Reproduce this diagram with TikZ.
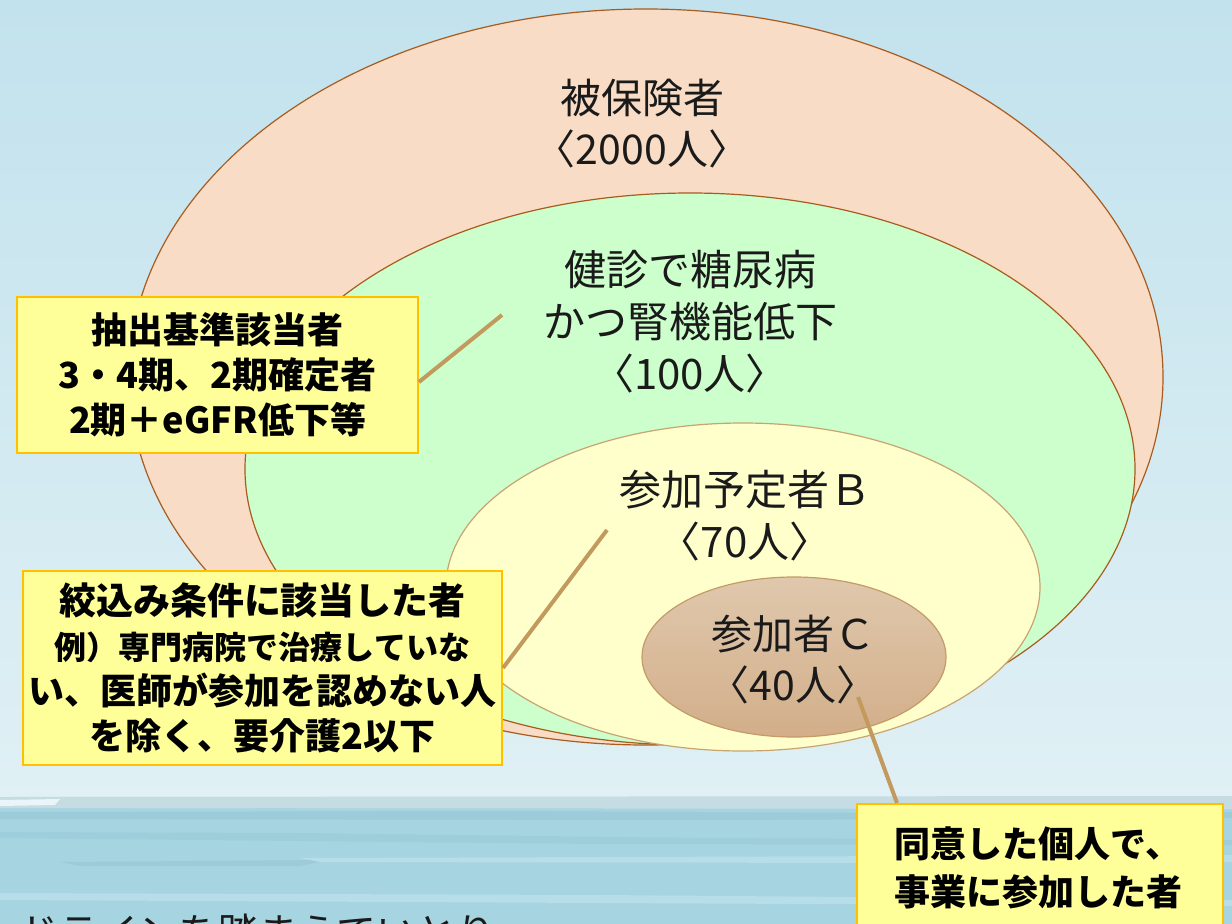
\documentclass[tikz,border=0pt]{standalone}
\usepackage{fontspec}
\newfontfamily\jp{Noto Sans CJK JP}
\usetikzlibrary{shapes.geometric}
\definecolor{sky1}{HTML}{C2E2ED}
\definecolor{sky2}{HTML}{E0F0F5}
\definecolor{sea}{HTML}{A7D4E1}
\definecolor{horizon}{HTML}{C5DCE3}
\definecolor{seadark}{HTML}{9CCBD9}
\definecolor{sealight}{HTML}{B6DDE8}
\definecolor{peach}{HTML}{F8DCC5}
\definecolor{outeredge}{HTML}{A95C1F}
\definecolor{mint}{HTML}{CCFFCC}
\definecolor{cream}{HTML}{FFFFCC}
\definecolor{creamedge}{HTML}{C9A472}
\definecolor{ctop}{HTML}{E0C8AD}
\definecolor{cbot}{HTML}{D2AE89}
\definecolor{cedge}{HTML}{C49B68}
\definecolor{calloutfill}{HTML}{FFFF99}
\definecolor{calloutedge}{HTML}{FFC000}
\definecolor{conncol}{HTML}{C39A5E}
\definecolor{ink}{HTML}{1A1A1A}
\begin{document}
\begin{tikzpicture}[x=1pt,y=-1pt,
  venn/.style={ellipse, inner sep=0pt, line width=1.2pt},
  lbl/.style={font=\jp\fontsize{41}{51}\selectfont, align=center, text=ink, inner sep=0pt},
  callout/.style={draw=calloutedge, fill=calloutfill, line width=2pt, inner sep=0pt},
  ctext/.style={font=\jp\bfseries\fontsize{36}{45}\selectfont, align=center, inner sep=0pt, text=black},
  conn/.style={draw=conncol, line width=4pt}]
\useasboundingbox (0,0) rectangle (1232,924);
\clip (0,0) rectangle (1232,924);
% sky
\fill[top color=sky1, bottom color=sky2] (0,0) rectangle (1232,800);
% sea
\fill[sea] (0,797) rectangle (1232,924);
\fill[horizon] (0,797) -- (1232,796) -- (1232,809) -- (0,808) -- cycle;
\fill[sky2!70!white] (0,800) -- (60,799) -- (55,805) -- (0,806) -- cycle;
\fill[seadark] (0,812) -- (500,811) -- (900,813) -- (1232,812) -- (1232,818) -- (700,820) -- (0,819) -- cycle;
\fill[seadark!80!sea] (0,832) -- (300,833) -- (700,838) -- (1232,840) -- (1232,845) -- (600,844) -- (0,838) -- cycle;
\fill[seadark] (60,862) -- (330,860) -- (300,866) -- (80,866) -- cycle;
\fill[sealight] (300,858) -- (1232,855) -- (1232,862) -- (900,863) -- (320,862) -- cycle;
\fill[sealight] (0,893) -- (600,895) -- (1232,900) -- (1232,906) -- (600,903) -- (0,900) -- cycle;
% nested sets
\node[venn, draw=outeredge, fill=peach, minimum width=1034pt, minimum height=736pt] (insured) at (646,377) {};
\node[venn, draw=outeredge, fill=mint, minimum width=890pt, minimum height=552pt] (screened) at (690,469) {};
\node[venn, draw=creamedge, fill=cream, minimum width=594pt, minimum height=328pt] (planned) at (743,587) {};
\node[venn, draw=cedge, top color=ctop, bottom color=cbot, minimum width=304pt, minimum height=160pt] (joined) at (794,657) {};
% labels
\node[lbl] (insuredlbl) at (642,124) {被保険者\\〈2000人〉};
\node[lbl, font=\jp\fontsize{42}{52}\selectfont] (screenedlbl) at (690,322) {健診で糖尿病\\かつ腎機能低下\\〈100人〉};
\node[lbl, font=\jp\fontsize{42}{52}\selectfont] (plannedlbl) at (745,516) {参加予定者Ｂ\\〈70人〉};
\node[lbl] (joinedlbl) at (793,660) {参加者Ｃ\\〈40人〉};
% callouts
\node[callout, ctext, minimum width=401pt, minimum height=156pt] (crit) at (217.5,375) {抽出基準該当者\\3・4期、2期確定者\\2期＋eGFR低下等};
\node[callout, ctext, minimum width=479pt, minimum height=194pt] (narrow) at (262.5,668) {\fontsize{37}{44}\selectfont 絞込み条件に該当した者\\\fontsize{32}{44}\selectfont 例）専門病院で治療していな\\い、医師が参加を認めない人\\を除く、要介護2以下};
\node[callout, minimum width=366pt, minimum height=200pt, anchor=north] (consent) at (1040,803) {};
\node[ctext, font=\jp\bfseries\fontsize{36}{48}\selectfont] (consenttext) at (1038,868) {同意した個人で、\\事業に参加した者};
% connectors
\coordinate (e1) at (502,315);
\coordinate (e2) at (607,530);
\coordinate (e3) at (858,697);
\draw[conn] ([yshift=-7pt]crit.east) -- (e1);
\draw[conn] (narrow.east) -- (e2);
\draw[conn] (e3) -- ([xshift=-143pt]consent.north);
% cut-off caption at the bottom
\node[font=\jp\fontsize{40}{40}\selectfont, anchor=base west, inner sep=0pt, text=ink] (caption) at (18,947) {ドラインを踏まえていとり};
\end{tikzpicture}
\end{document}
